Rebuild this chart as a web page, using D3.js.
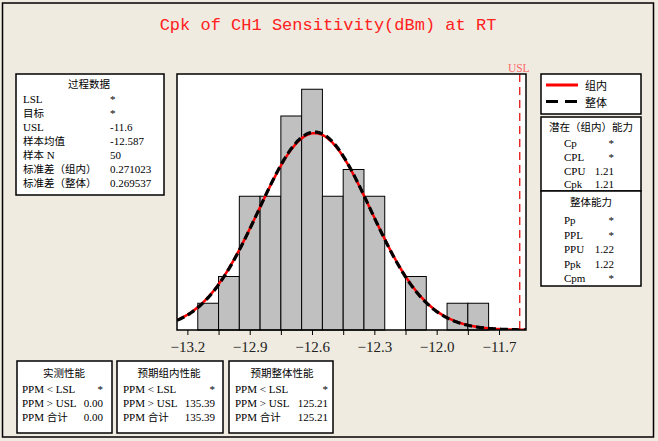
<!DOCTYPE html>
<html><head><meta charset="utf-8">
<script src="https://cdn.jsdelivr.net/npm/d3@7"></script>
<style>
html,body{margin:0;padding:0;background:#efebe1;}
svg{display:block;}
.pt{font-family:"Liberation Serif","Noto Sans CJK SC",serif;font-size:11px;fill:#000;}
</style></head>
<body>
<svg id="c" width="658" height="441"></svg>
<script>
// ---- data ----
const binEdges = [-13.15,-13.05,-12.95,-12.85,-12.75,-12.65,-12.55,-12.45,-12.35,-12.25,-12.15,-12.05,-11.95,-11.85,-11.75];
const binCounts = [1,2,5,5,8,9,5,6,5,0,2,0,1,1];
const tickValues = [-13.2,-12.9,-12.6,-12.3,-12.0,-11.7];
const minorTicks = [-13.05,-12.75,-12.45,-12.15,-11.85];
const sampleMean = -12.587;
const sdWithin = 0.271023;
const sdOverall = 0.269537;
const sampleN = 50;
const binWidth = 0.1;
const USL = -11.6;
const processLabels = ["LSL","目标","USL","样本均值","样本 N","标准差（组内）","标准差（整体）"];
const processValues = ["*","*","-11.6","-12.587","50","0.271023","0.269537"];
const withinLabels = ["Cp","CPL","CPU","Cpk"];
const withinValues = ["*","*","1.21","1.21"];
const overallLabels = ["Pp","PPL","PPU","Ppk","Cpm"];
const overallValues = ["*","*","1.22","1.22","*"];
const perfTitles = ["实测性能","预期组内性能","预期整体性能"];
const perfLabels = ["PPM < LSL","PPM > USL","PPM 合计"];
const perfValues = [["*","0.00","0.00"],["*","135.39","135.39"],["*","125.21","125.21"]];

const svg = d3.select("#c");
svg.append("rect").attr("x",2.5).attr("y",3).attr("width",651).attr("height",434)
  .attr("fill","#efebe1").attr("stroke","#000").attr("stroke-width",1.5);

svg.append("text").attr("x",328).attr("y",30).attr("text-anchor","middle")
  .attr("font-family","Liberation Mono, monospace").attr("font-size",17)
  .attr("fill","#ff2020").text("Cpk of CH1 Sensitivity(dBm) at RT");

const x = d3.scaleLinear().domain([-13.25,-11.57]).range([177,526]);
const y = d3.scaleLinear().domain([0,9.57]).range([330,74]);

svg.append("rect").attr("x",177).attr("y",74).attr("width",349).attr("height",256).attr("fill","#fff");

const bins = binCounts.map((c,i)=>({x0:binEdges[i],x1:binEdges[i+1],c}));
svg.append("g").selectAll("rect").data(bins.filter(d=>d.c>0)).join("rect")
  .attr("x",d=>x(d.x0)).attr("width",d=>x(d.x1)-x(d.x0))
  .attr("y",d=>y(d.c)).attr("height",d=>y(0)-y(d.c))
  .attr("fill","#c0c0c0").attr("stroke","#000").attr("stroke-width",1);

function pdf(v,m,s){return Math.exp(-0.5*((v-m)/s)**2)/(s*Math.sqrt(2*Math.PI));}
const xs = d3.range(0,301).map(i=>-13.25+i*(1.68/300));
const line = d3.line().x(d=>x(d[0])).y(d=>y(d[1])).curve(d3.curveBasis);
const within = xs.map(v=>[v,sampleN*binWidth*pdf(v,sampleMean,sdWithin)]);
const overall = xs.map(v=>[v,sampleN*binWidth*pdf(v,sampleMean,sdOverall)]);
const clip = svg.append("clipPath").attr("id","pc");
clip.append("rect").attr("x",177).attr("y",74).attr("width",349).attr("height",256);
const cg = svg.append("g").attr("clip-path","url(#pc)");
cg.append("path").attr("d",line(within)).attr("fill","none").attr("stroke","#ff0000").attr("stroke-width",2.5);
cg.append("path").attr("d",line(overall)).attr("fill","none").attr("stroke","#000").attr("stroke-width",3.2)
  .attr("stroke-dasharray","8,4");

svg.append("line").attr("x1",x(USL)).attr("x2",x(USL)).attr("y1",74).attr("y2",330)
  .attr("stroke","#e00000").attr("stroke-width",1.2).attr("stroke-dasharray","8,5");
svg.append("text").attr("x",x(USL)-1).attr("y",72).attr("text-anchor","middle")
  .attr("font-family","Liberation Serif, serif").attr("font-size",11.5).attr("fill","#ff6a6a").text("USL");

svg.append("rect").attr("x",177).attr("y",74).attr("width",349).attr("height",256)
  .attr("fill","none").attr("stroke","#000").attr("stroke-width",1.5);

const ax = svg.append("g").attr("transform","translate(0,330)")
  .call(d3.axisBottom(x).tickValues(tickValues).tickSize(5).tickPadding(6).tickFormat(d3.format(".1f")));
ax.select(".domain").remove();
ax.selectAll("text").attr("font-family","Liberation Serif, serif").attr("font-size",15).attr("fill","#222");
const ax2 = svg.append("g").attr("transform","translate(0,330)")
  .call(d3.axisBottom(x).tickValues(minorTicks).tickSize(5).tickFormat(""));
ax2.select(".domain").remove();

function box(xx,yy,w,h){svg.append("rect").attr("x",xx).attr("y",yy).attr("width",w).attr("height",h)
  .attr("fill","#fff").attr("stroke","#000").attr("stroke-width",1.5);}
const cjk = /[\u3000-\u9fff\uff00-\uffef]/;
function txt(xx,yy,t,anchor){
  const el = svg.append("text").attr("class","pt").attr("x",xx).attr("y",yy).attr("text-anchor",anchor||"start");
  const runs = t.match(/[\u3000-\u9fff\uff00-\uffef]+|[^\u3000-\u9fff\uff00-\uffef]+/g)||[];
  runs.forEach(r=>{const s=el.append("tspan").text(r); if(cjk.test(r)) s.attr("font-size",10.5);});
  return el;
}

box(16,74,148,121);
txt(89,88,"过程数据","middle");
processLabels.forEach((l,i)=>{txt(23,103+i*14,l);txt(110,103+i*14,processValues[i]);});

box(541,74,100,40);
svg.append("line").attr("x1",546).attr("x2",578).attr("y1",85).attr("y2",85).attr("stroke","#ff0000").attr("stroke-width",3);
svg.append("line").attr("x1",546).attr("x2",578).attr("y1",101.5).attr("y2",101.5).attr("stroke","#000").attr("stroke-width",3).attr("stroke-dasharray","12,7");
svg.append("text").attr("class","pt").attr("x",585).attr("y",90).attr("font-size",12.5).text("组内");
svg.append("text").attr("class","pt").attr("x",585).attr("y",107).attr("font-size",12.5).text("整体");

box(541,117,100,74);
txt(591,131,"潜在（组内）能力","middle");
withinLabels.forEach((l,i)=>{txt(564,147+i*13.8,l);txt(614,147+i*13.8,withinValues[i],"end");});

box(541,191,100,95);
txt(591,206,"整体能力","middle");
overallLabels.forEach((l,i)=>{txt(564,224+i*14.5,l);txt(614,224+i*14.5,overallValues[i],"end");});

const pb = [{x:17,w:95,lx:22,vx:103,cx:64},{x:117,w:106,lx:123,vx:215,cx:169},{x:229,w:104,lx:235,vx:328,cx:282}];
pb.forEach((b,k)=>{
  box(b.x,361,b.w,72);
  txt(b.cx,377,perfTitles[k],"middle");
  const rows=[393,407,420.5];
  perfLabels.forEach((l,i)=>{txt(b.lx,rows[i],l);txt(b.vx,rows[i],perfValues[k][i],"end");});
});
</script>
</body></html>
